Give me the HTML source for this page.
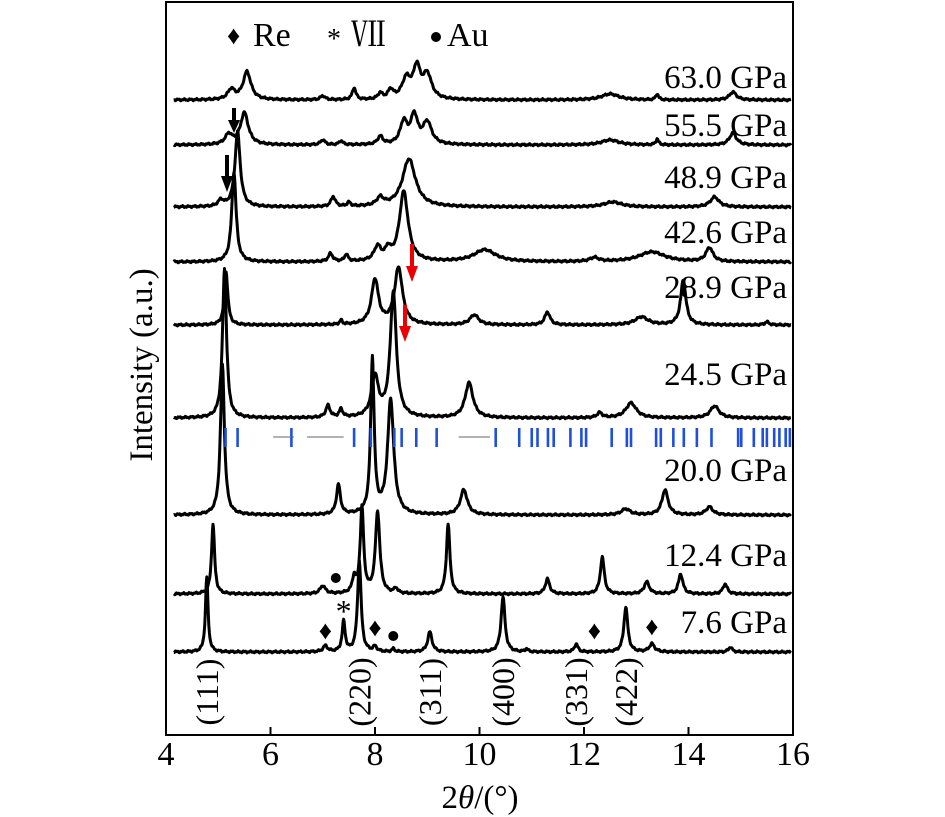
<!DOCTYPE html>
<html><head><meta charset="utf-8"><style>
body{margin:0;background:#fff}
svg{display:block}
text{font-family:"Liberation Serif","Noto Serif CJK SC",serif;fill:#000}
</style></head><body>
<svg id="chart" width="945" height="817" viewBox="0 0 945 817">
<rect x="166" y="2" width="627" height="733" fill="none" stroke="#000" stroke-width="2"/>
<g id="xticks"></g>
<text x="480" y="808" font-size="33" text-anchor="middle">2<tspan font-style="italic">θ</tspan>/(°)</text>
<text transform="translate(152,365) rotate(-90)" font-size="33" text-anchor="middle">Intensity (a.u.)</text>
<g>
<text x="227" y="44" font-size="26">♦</text>
<text x="253" y="46" font-size="34">Re</text>
<text x="327" y="48" font-size="28">*</text>
<text x="351" y="46" font-size="34">Ⅶ</text>
<circle cx="436" cy="37" r="5" fill="#000"/>
<text x="447" y="46" font-size="34">Au</text>
</g>
<g id="curves"></g>
<g id="bluebars"></g>
<g id="labels"></g>
<g id="markers"></g>
<g>
<path d="M234 108 V122" stroke="#000" stroke-width="4"/><path d="M228 120 L240 120 L234 133 Z" fill="#000"/>
<path d="M227 155 V178" stroke="#000" stroke-width="4"/><path d="M221 176 L233 176 L227 192 Z" fill="#000"/>
<path d="M412 244 V268" stroke="#e00" stroke-width="4"/><path d="M406 266 L418 266 L412 282 Z" fill="#e00"/>
<path d="M405 305 V328" stroke="#e00" stroke-width="4"/><path d="M399 326 L411 326 L405 342 Z" fill="#e00"/>
</g>
</svg>
<script>
const xTicks=[4,6,8,10,12,14,16];
const pressures=["63.0 GPa","55.5 GPa","48.9 GPa","42.6 GPa","28.9 GPa","24.5 GPa","20.0 GPa","12.4 GPa","7.6 GPa"];
const baselines=[100,145,207,262,325,418,515,594,652];
const labelY=[88,136,188,243,298,385,481,566,633];
const p63=[[5.25,10,0.08],[5.55,28,0.09],[7.0,4,0.05],[7.6,12,0.04],[8.1,6,0.05],[8.3,9,0.06],[8.6,20,0.1],[8.8,30,0.08],[9.0,24,0.1],[12.5,6,0.2],[13.4,6,0.03],[14.85,8,0.08]];
const p55=[[5.2,10,0.08],[5.5,32,0.09],[7.0,5,0.05],[7.35,4,0.04],[8.1,8,0.06],[8.55,22,0.08],[8.75,28,0.08],[9.0,22,0.1],[12.5,5,0.2],[13.4,6,0.03],[14.85,12,0.08]];
const p48=[[5.05,6,0.06],[5.37,75,0.06],[7.2,10,0.05],[7.5,4,0.04],[8.1,8,0.08],[8.65,48,0.15],[12.55,5,0.2],[14.5,10,0.1]];
const p42=[[5.3,90,0.05],[7.15,8,0.05],[7.45,7,0.04],[8.05,14,0.08],[8.25,10,0.06],[8.55,70,0.1],[10.1,12,0.25],[12.2,4,0.1],[13.3,10,0.3],[14.4,14,0.08]];
const p28=[[5.15,53,0.04],[7.35,4,0.03],[8.0,45,0.08],[8.45,57,0.09],[9.9,10,0.1],[11.3,13,0.06],[13.1,8,0.15],[13.9,45,0.06],[15.5,3,0.05]];
const p24=[[5.12,150,0.045],[7.1,12,0.05],[7.35,8,0.04],[8.0,40,0.08],[8.35,125,0.07],[9.8,35,0.09],[12.3,5,0.06],[12.9,15,0.12],[14.5,12,0.1]];
const p20=[[5.08,150,0.045],[7.3,30,0.045],[7.95,155,0.04],[8.3,115,0.07],[9.7,25,0.08],[12.8,6,0.1],[13.55,25,0.07],[14.4,8,0.08]];
const p12=[[4.9,70,0.035],[7.0,8,0.06],[7.6,15,0.04],[7.75,85,0.04],[8.05,82,0.05],[8.4,5,0.04],[9.4,70,0.04],[11.3,15,0.05],[12.35,37,0.045],[13.2,12,0.06],[13.85,20,0.05],[14.7,10,0.05]];
const p7=[[4.78,75,0.03],[7.05,6,0.05],[7.4,30,0.035],[7.7,92,0.04],[8.0,5,0.04],[8.35,3,0.03],[9.05,20,0.05],[10.45,55,0.045],[10.9,3,0.03],[11.85,8,0.04],[12.8,45,0.045],[13.3,8,0.06],[14.8,5,0.04]];
const peakSets=[p63,p55,p48,p42,p28,p24,p20,p12,p7];
const blueBars=[5.14,5.37,6.40,7.60,7.92,8.37,8.51,8.79,9.18,10.31,10.76,11.00,11.11,11.31,11.42,11.74,11.95,12.04,12.53,12.82,12.90,13.38,13.47,13.71,13.91,14.16,14.44,14.95,15.01,15.25,15.42,15.50,15.64,15.74,15.86,15.94];
const hkl=["(111)","(220)","(311)","(400)","(331)","(422)"];
const hklPos=[4.78,7.7,9.05,10.45,11.85,12.8];
const reMarks=[[7.05,630],[8.0,627],[12.2,630],[13.3,626]];
const auMarks=[[7.25,578],[8.35,636]];
const starMark=[7.4,607];

const NS="http://www.w3.org/2000/svg";
const X=v=>166+(v-4)*52.25;
function mk(t,a,p){const e=document.createElementNS(NS,t);for(const k in a)e.setAttribute(k,a[k]);p.appendChild(e);return e;}
const xg=document.getElementById('xticks');
xTicks.forEach(t=>{
  const l=mk('line',{x1:X(t),x2:X(t),y1:735,y2:727,stroke:'#000','stroke-width':2},xg);
  
  
  const tx=mk('text',{x:X(t),y:765,'font-size':34,'text-anchor':'middle'},xg);
  tx.textContent=t;
  
  
});
const cg=document.getElementById('curves');
const lg=document.getElementById('labels');
peakSets.forEach((ps,i)=>{
  let d='';
  for(let v=4.15;v<=15.96;v+=0.01){
    let y=0;
    ps.forEach(p=>{const z=(v-p[0])/p[2];y+=p[1]/(1+z*z);});
    const n=Math.sin(v*53.1+i)*0.6+Math.sin(v*131+i*2)*0.5;
    d+=(d?'L':'M')+X(v).toFixed(1)+' '+(baselines[i]-y+n).toFixed(1);
  }
  const path=mk('path',{d:d,fill:'none',stroke:'#000','stroke-width':3,'stroke-linejoin':'round'},cg);
  
  
  const t=mk('text',{x:787,y:labelY[i],'font-size':33,'text-anchor':'end'},lg);
  t.textContent=pressures[i];
  
  
});
const bg=document.getElementById('bluebars');
blueBars.forEach(b=>{
  const l=mk('line',{x1:X(b),x2:X(b),y1:428,y2:447,stroke:'#1f4fe0','stroke-width':2.6},bg);
  
  
});
[[6.05,6.45],[6.7,7.4],[9.6,10.2]].forEach(s=>{
  const l=mk('line',{x1:X(s[0]),x2:X(s[1]),y1:437,y2:437,stroke:'#666','stroke-width':1},bg);
  
  
});
hklPos.forEach((p,i)=>{
  const t=mk('text',{transform:`translate(${X(p)+11},692) rotate(-90)`,'font-size':32,'text-anchor':'middle'},lg);
  t.textContent=hkl[i];
  
  
});
const mg=document.getElementById('markers');
reMarks.forEach(m=>{
  const t=mk('text',{x:X(m[0]),y:m[1]+9,'font-size':26,'text-anchor':'middle'},mg);
  t.textContent='♦';
  
  
});
auMarks.forEach(m=>{
  const c=mk('circle',{cx:X(m[0]),cy:m[1],r:5,fill:'#000'},mg);
  
  
});
const st=mk('text',{x:X(starMark[0]),y:starMark[1]+15,'font-size':32,'text-anchor':'middle'},mg);
st.textContent='*';


</script>
</body></html>
